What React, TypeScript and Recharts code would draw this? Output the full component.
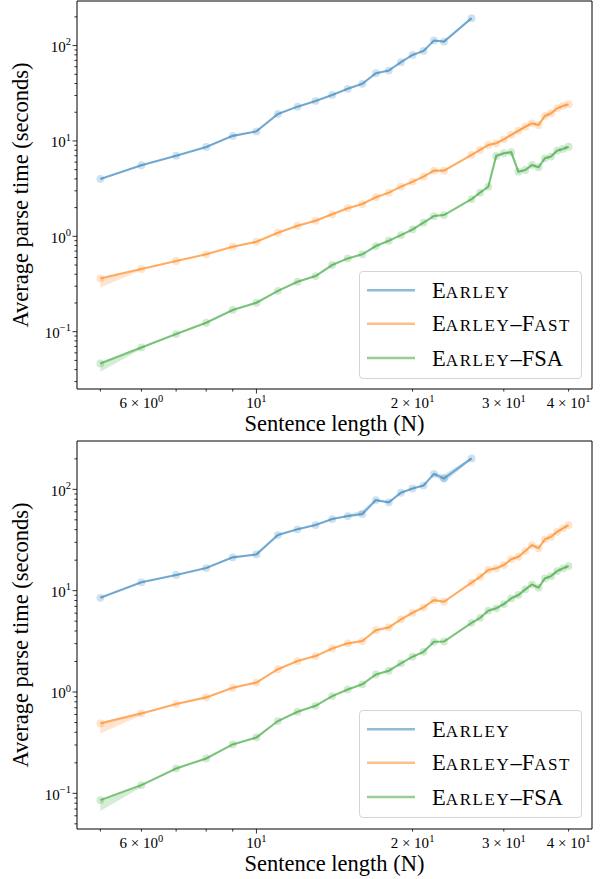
import React from 'react';
import { ComposedChart, Line, Area, XAxis, YAxis, Legend, ReferenceArea } from 'recharts';

const FONT = '"Liberation Serif", "Times New Roman", Times, serif';

// ---------- data ----------
const lengths = [5, 6, 7, 8, 9, 10, 11, 12, 13, 14, 15, 16, 17, 18, 19, 20, 21, 22, 23, 26, 27, 28, 29, 30, 31, 32, 33, 34, 35, 36, 37, 38, 39, 40];
const earleyLengths = [5, 6, 7, 8, 9, 10, 11, 12, 13, 14, 15, 16, 17, 18, 19, 20, 21, 22, 23, 26];

const topEarley = [4.0, 5.56, 7.0, 8.65, 11.3, 12.6, 19.2, 22.9, 26.3, 30.4, 35.2, 39.7, 51.3, 54.7, 67, 79.8, 88, 113, 110, 194];
const topFast = [0.362, 0.454, 0.551, 0.647, 0.778, 0.877, 1.09, 1.29, 1.46, 1.70, 1.97, 2.18, 2.57, 2.87, 3.32, 3.74, 4.22, 4.88, 4.88, 7.13, 8.05, 9.08, 9.46, 10.4, 11.6, 12.8, 14.1, 15.3, 14.7, 18.3, 19.5, 22.0, 23.3, 24.3];
const topFsa = [0.0465, 0.0684, 0.0944, 0.124, 0.169, 0.201, 0.268, 0.334, 0.383, 0.50, 0.587, 0.647, 0.791, 0.899, 1.03, 1.18, 1.39, 1.63, 1.67, 2.46, 2.87, 3.31, 6.97, 7.43, 7.61, 4.76, 4.96, 5.60, 5.30, 6.58, 6.85, 7.90, 8.24, 8.71];

const botEarley = [8.5, 12.1, 14.3, 16.7, 21.3, 22.8, 35.4, 40.3, 44.4, 50.9, 54.5, 57.0, 78.3, 74.4, 92.5, 102, 109, 142, 128, 202];
const botFast = [0.49, 0.615, 0.76, 0.885, 1.10, 1.24, 1.68, 2.02, 2.26, 2.69, 3.02, 3.18, 4.08, 4.34, 5.21, 6.05, 6.84, 8.07, 7.77, 12.0, 13.7, 16.0, 16.6, 17.9, 20.4, 21.6, 24.6, 28.2, 26.2, 32.1, 34.0, 38.1, 41.2, 44.4];
const botFsa = [0.0857, 0.1205, 0.176, 0.221, 0.304, 0.356, 0.517, 0.638, 0.731, 0.911, 1.06, 1.19, 1.49, 1.62, 1.92, 2.23, 2.49, 3.13, 3.15, 4.82, 5.40, 6.34, 6.69, 7.38, 8.39, 9.06, 10.3, 11.5, 10.7, 13.2, 13.9, 15.6, 16.6, 17.5];

// confidence bands (only where visibly wider than the line)
const bandStartX = [5, 6];
const topFastBandLo = [0.29, 0.44];
const topFastBandHi = [0.375, 0.465];
const topFsaBandLo = [0.038, 0.066];
const topFsaBandHi = [0.048, 0.070];
const topFsaBand2X = [31, 32];
const topFsaBand2Lo = [7.1, 4.5];
const topFsaBand2Hi = [7.9, 5.0];
const botFastBandLo = [0.39, 0.59];
const botFastBandHi = [0.50, 0.63];
const botFsaBandLo = [0.067, 0.115];
const botFsaBandHi = [0.088, 0.124];
const botEarleyBand1X = [15, 16, 17];
const botEarleyBand1Lo = [53, 55, 76];
const botEarleyBand1Hi = [56, 62, 81];
const botEarleyBand2X = [22, 23, 26];
const botEarleyBand2Lo = [138, 116, 198];
const botEarleyBand2Hi = [146, 140, 207];

const seriesNames = ['Earley', 'Earley–Fast', 'Earley–FSA'];

const xDomain = [4.507, 44.38];
const topYDomain = [0.02506, 293.4];
const botYDomain = [0.04446, 299.9];
const xTicks = [5, 6, 7, 8, 9, 10, 20, 30, 40];
const xTickLabels: Record<number, [string, string]> = {
  6: ['6 × 10', '0'],
  10: ['10', '1'],
  20: ['2 × 10', '1'],
  30: ['3 × 10', '1'],
  40: ['4 × 10', '1'],
};
const topYTicks = [0.03, 0.04, 0.05, 0.06, 0.07, 0.08, 0.09, 0.1, 0.2, 0.3, 0.4, 0.5, 0.6, 0.7, 0.8, 0.9, 1, 2, 3, 4, 5, 6, 7, 8, 9, 10, 20, 30, 40, 50, 60, 70, 80, 90, 100, 200];
const botYTicks = [0.05, 0.06, 0.07, 0.08, 0.09, 0.1, 0.2, 0.3, 0.4, 0.5, 0.6, 0.7, 0.8, 0.9, 1, 2, 3, 4, 5, 6, 7, 8, 9, 10, 20, 30, 40, 50, 60, 70, 80, 90, 100, 200];

// ---------- styles ----------
const BASE = ['#1f77b4', '#ff7f0e', '#2ca02c'];
const LINE = ['#72a9d0', '#ffac62', '#7ac37a'];
const LEG = ['#8fbbd9', '#ffbf86', '#95cf95'];

const pts = (xs: number[], ys: number[]) => xs.map((x, i) => ({ x, y: ys[i] }));
const band = (xs: number[], lo: number[], hi: number[]) => xs.map((x, i) => ({ x, r: [lo[i], hi[i]] }));

function XTick(props: any) {
  const { x, y, payload } = props;
  const v = payload.value;
  const major = v === 10;
  const lab = xTickLabels[v];
  return (
    <g>
      <line x1={x} x2={x} y1={y} y2={y + (major ? 4.5 : 2.6)} stroke="#000" strokeWidth={0.8} />
      {lab && (
        <text x={x} y={y + 18.5} textAnchor="middle" fontFamily={FONT} fontSize={15} fill="#000">
          {lab[0]}
          <tspan fontSize={10.5} dy={-6}>{lab[1]}</tspan>
        </text>
      )}
    </g>
  );
}

function YTick(props: any) {
  const { x, y, payload } = props;
  const v = payload.value;
  const e = Math.log10(v);
  const r = Math.round(e);
  const major = Math.abs(e - r) < 1e-6;
  const exp = r < 0 ? '\u2212' + String(-r) : String(r);
  return (
    <g>
      <line x1={x - (major ? 4.5 : 2.6)} x2={x} y1={y} y2={y} stroke="#000" strokeWidth={0.8} />
      {major && (
        <text x={x - 6} y={y + 6.3} textAnchor="end" fontFamily={FONT} fontSize={15} fill="#000">
          10
          <tspan fontSize={10.5} dy={-6.5}>{exp}</tspan>
        </text>
      )}
    </g>
  );
}

function smallCaps(name: string) {
  const runs: { t: string; small: boolean }[] = [];
  for (const ch of name) {
    const small = ch >= 'a' && ch <= 'z';
    const last = runs[runs.length - 1];
    if (last && last.small === small) last.t += ch;
    else runs.push({ t: ch, small });
  }
  return runs.map((r, i) =>
    r.small ? (
      <tspan key={i} fontSize={17} letterSpacing={1.6}>{r.t.toUpperCase()}</tspan>
    ) : (
      <tspan key={i} fontSize={22.5}>{r.t}</tspan>
    )
  );
}

function LegendBox() {
  const rows = [19.3, 52.8, 87];
  return (
    <svg width={224} height={109} style={{ display: 'block', overflow: 'visible' }}>
      <rect x={0.5} y={0.5} width={222} height={107} rx={3.5} fill="#fff" fillOpacity={0.8} stroke="#d5d5d5" strokeWidth={1} />
      {seriesNames.map((n, i) => (
        <g key={n}>
          <line x1={8} x2={56} y1={rows[i]} y2={rows[i]} stroke={LEG[i]} strokeWidth={2.4} />
          <text x={73} y={rows[i] + 7.6} fontFamily={FONT} fill="#000">{smallCaps(n)}</text>
        </g>
      ))}
    </svg>
  );
}

const xLabel = (p: any) => {
  const vb = p.viewBox || { x: 77, y: 389, width: 515, height: 51 };
  return (
    <text x={vb.x + vb.width / 2} y={vb.y + 42} textAnchor="middle" fontFamily={FONT} fontSize={22.5} fill="#000">
      Sentence length (N)
    </text>
  );
};
const yLabel = (p: any) => {
  const vb = p.viewBox || { x: 0, y: 1, width: 77, height: 388 };
  const cx = vb.x + 28.3;
  const cy = vb.y + vb.height / 2;
  return (
    <text x={cx} y={cy} transform={`rotate(-90, ${cx}, ${cy})`} textAnchor="middle" fontFamily={FONT} fontSize={22.5} fill="#000">
      Average parse time (seconds)
    </text>
  );
};

type PanelProps = {
  height: number;
  xAxisHeight: number;
  yDomain: number[];
  yTicks: number[];
  earley: number[];
  fast: number[];
  fsa: number[];
  bands: { data: any[]; c: number }[];
  legendTop: number;
};

function Panel(p: PanelProps) {
  const series = [pts(earleyLengths, p.earley), pts(lengths, p.fast), pts(lengths, p.fsa)];
  return (
    <ComposedChart width={601} height={p.height} margin={{ top: 1, right: 9, left: 0, bottom: 0 }}>
      <XAxis
        type="number"
        dataKey="x"
        scale="log"
        domain={xDomain}
        allowDataOverflow
        ticks={xTicks}
        interval={0}
        height={p.xAxisHeight}
        tickSize={0}
        tickMargin={0}
        tickLine={false}
        axisLine={false}
        tick={(t: any) => <XTick {...t} />}
        label={xLabel}
      />
      <YAxis
        type="number"
        scale="log"
        domain={p.yDomain}
        allowDataOverflow
        ticks={p.yTicks}
        interval={0}
        width={77}
        tickSize={0}
        tickMargin={0}
        tickLine={false}
        axisLine={false}
        tick={(t: any) => <YTick {...t} />}
        label={yLabel}
      />
      {p.bands.map((b, i) => (
        <Area
          key={'b' + i}
          data={b.data}
          dataKey="r"
          type="linear"
          stroke="none"
          fill={BASE[b.c]}
          fillOpacity={0.2}
          isAnimationActive={false}
          dot={false}
          activeDot={false}
          legendType="none"
        />
      ))}
      {series.map((d, i) => (
        <Line
          key={'l' + i}
          data={d}
          dataKey="y"
          name={seriesNames[i]}
          type="linear"
          stroke={LINE[i]}
          strokeWidth={2.1}
          dot={{ r: 3.9, fill: BASE[i], fillOpacity: 0.22, stroke: 'none' }}
          activeDot={false}
          isAnimationActive={false}
        />
      ))}
      <ReferenceArea
        x1={xDomain[0]}
        x2={xDomain[1]}
        y1={p.yDomain[0]}
        y2={p.yDomain[1]}
        fill="none"
        fillOpacity={0}
        stroke="#000"
        strokeWidth={1}
        ifOverflow="visible"
      />
      <Legend
        layout="horizontal"
        verticalAlign="middle"
        align="center"
        content={() => <LegendBox />}
        wrapperStyle={{ position: 'absolute', left: 359, top: p.legendTop, width: 224, height: 109 }}
      />
    </ComposedChart>
  );
}

export default function App() {
  return (
    <div style={{ position: 'absolute', left: 0, top: 0, width: 601, height: 879, background: '#fff' }}>
      <Panel
        height={440}
        xAxisHeight={51}
        yDomain={topYDomain}
        yTicks={topYTicks}
        earley={topEarley}
        fast={topFast}
        fsa={topFsa}
        legendTop={270.5}
        bands={[
          { data: band(bandStartX, topFastBandLo, topFastBandHi), c: 1 },
          { data: band(bandStartX, topFsaBandLo, topFsaBandHi), c: 2 },
          { data: band(topFsaBand2X, topFsaBand2Lo, topFsaBand2Hi), c: 2 },
        ]}
      />
      <Panel
        height={439}
        xAxisHeight={50}
        yDomain={botYDomain}
        yTicks={botYTicks}
        earley={botEarley}
        fast={botFast}
        fsa={botFsa}
        legendTop={270}
        bands={[
          { data: band(bandStartX, botFastBandLo, botFastBandHi), c: 1 },
          { data: band(bandStartX, botFsaBandLo, botFsaBandHi), c: 2 },
          { data: band(botEarleyBand1X, botEarleyBand1Lo, botEarleyBand1Hi), c: 0 },
          { data: band(botEarleyBand2X, botEarleyBand2Lo, botEarleyBand2Hi), c: 0 },
        ]}
      />
    </div>
  );
}
